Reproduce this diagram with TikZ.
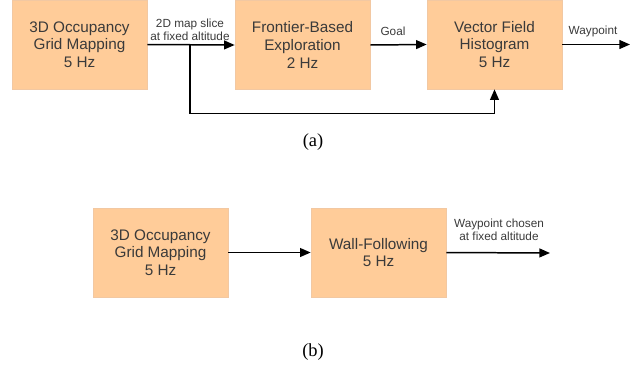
\documentclass[tikz,border=0pt]{standalone}
\usepackage{fontspec}
\setmainfont{Liberation Serif}
\setsansfont{Liberation Sans}
\usetikzlibrary{positioning}
\usetikzlibrary{arrows.meta}

\definecolor{peach}{HTML}{FFCC99}
\definecolor{peachline}{HTML}{F2C8A2}
\definecolor{boxtext}{HTML}{3A3A3A}

\tikzset{
  block/.style={draw=peachline, fill=peach, minimum width=2.7cm, minimum height=1.78cm,
    align=center, text=boxtext, font=\sffamily\fontsize{8.7}{10}\selectfont},
  flow/.style={line width=0.85pt, -{Triangle[length=6pt,width=5pt]}},
  tag/.style={text=boxtext, align=center, font=\sffamily\fontsize{6.7}{7.6}\selectfont, inner sep=1pt},
  caption/.style={font=\fontsize{10.5}{12}\selectfont}
}

\begin{document}
\begin{tikzpicture}[x=0.02cm, y=-0.02cm]
            \useasboundingbox (0,0) rectangle (644,365);

            % (a) exploration pipeline
            \node[block] (map) at (79.5,44.5) {3D Occupancy\\Grid Mapping\\5 Hz};
            \node[block] (frontier) at (302.5,45) {Frontier-Based\\Exploration\\2 Hz};
            \node[block] (vfh) at (494.5,44.5) {Vector Field\\Histogram\\5 Hz};
            \coordinate (split) at (190,44.5);
            \coordinate (outA) at (630,44.5);

            \draw[flow] (map.east) -- (frontier.west);
            \draw[flow] (frontier.east) -- (vfh.west);
            \draw[flow] (vfh.east) -- (outA);
            \draw[flow] (split) -- ++(0,69) -| (vfh.south);

            \node[tag, above=1pt of split] (slice) {2D map slice\\at fixed altitude};
            \node[tag] (goal) at (393,31) {Goal};
            \node[tag] (way) at (593,31.5) {Waypoint};
            \node[caption] (capA) at (313,142) {(a)};

            % (b) wall following
            \node[block] (mapB) at (160.5,252.5) {3D Occupancy\\Grid Mapping\\5 Hz};
            \node[block] (wall) at (378.5,252.5) {Wall-Following\\5 Hz};
            \coordinate (outB) at (550,253);

            \draw[flow] (mapB.east) -- (wall.west);
            \draw[flow] (wall.east) -- (outB);

            \node[tag] (chosen) at (499,230) {Waypoint chosen\\at fixed altitude};
            \node[caption] (capB) at (313,352) {(b)};
        \end{tikzpicture}
\end{document}
